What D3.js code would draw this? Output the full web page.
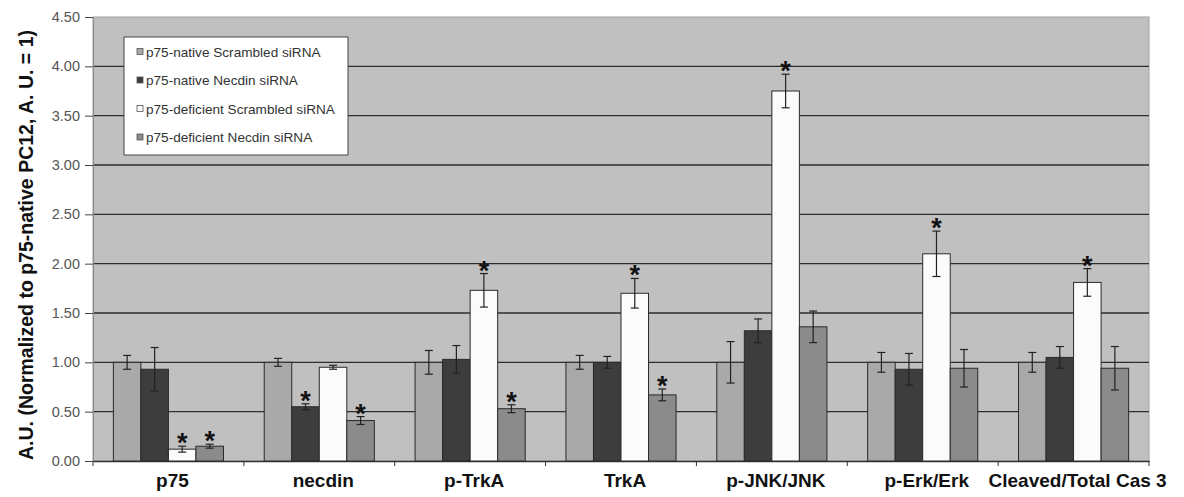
<!DOCTYPE html>
<html>
<head>
<meta charset="utf-8">
<script src="https://cdn.jsdelivr.net/npm/d3@7"></script>
<style>
  body { margin: 0; background: #fff; }
  svg { display: block; font-family: Arial, "Liberation Sans", sans-serif; }
</style>
</head>
<body>
<svg id="chart" width="1184" height="497"></svg>
<script>
// data
const categories = ['p75', 'necdin', 'p-TrkA', 'TrkA', 'p-JNK/JNK', 'p-Erk/Erk', 'Cleaved/Total Cas 3'];
const seriesNames = ['p75-native Scrambled siRNA', 'p75-native Necdin siRNA', 'p75-deficient Scrambled siRNA', 'p75-deficient Necdin siRNA'];
const seriesColors = ['#a9a9a9', '#3d3d3d', '#fbfbfb', '#8b8b8b'];

const nativeScrambled = [1.00, 1.00, 1.00, 1.00, 1.00, 1.00, 1.00];
const nativeNecdin = [0.93, 0.55, 1.03, 1.00, 1.32, 0.93, 1.05];
const deficientScrambled = [0.12, 0.95, 1.73, 1.70, 3.75, 2.10, 1.81];
const deficientNecdin = [0.15, 0.41, 0.53, 0.67, 1.36, 0.94, 0.94];

const errNativeScrambled = [0.07, 0.04, 0.12, 0.07, 0.21, 0.10, 0.10];
const errNativeNecdin = [0.22, 0.03, 0.14, 0.06, 0.12, 0.16, 0.11];
const errDeficientScrambled = [0.03, 0.02, 0.17, 0.15, 0.17, 0.23, 0.14];
const errDeficientNecdin = [0.02, 0.04, 0.04, 0.06, 0.16, 0.19, 0.22];

// significance stars (true = *)
const starNativeNecdin = [false, true, false, false, false, false, false];
const starDeficientScrambled = [true, false, true, true, true, true, true];
const starDeficientNecdin = [true, true, true, true, false, false, false];

const yTicks = [0, 0.5, 1, 1.5, 2, 2.5, 3, 3.5, 4, 4.5];

const values = [nativeScrambled, nativeNecdin, deficientScrambled, deficientNecdin];
const errors = [errNativeScrambled, errNativeNecdin, errDeficientScrambled, errDeficientNecdin];
const stars = [categories.map(() => false), starNativeNecdin, starDeficientScrambled, starDeficientNecdin];

const svg = d3.select('#chart');
const margin = { left: 93, right: 35, top: 17, bottom: 36 };
const width = 1184 - margin.left - margin.right;
const height = 497 - margin.top - margin.bottom;

const g = svg.append('g').attr('transform', `translate(${margin.left},${margin.top})`);

const x = d3.scaleBand().domain(categories).range([0, width]).paddingInner(0).paddingOuter(0);
const xs = d3.scaleBand().domain(d3.range(4)).range([0, x.bandwidth()]).paddingInner(0).paddingOuter(0.74);
const y = d3.scaleLinear().domain([0, 4.5]).range([height, 0]);

// plot background
g.append('rect')
  .attr('width', width).attr('height', height)
  .attr('fill', '#c0c0c0')
  .attr('stroke', '#a0a0a0').attr('stroke-width', 1);

// gridlines
g.append('g')
  .selectAll('line')
  .data(yTicks.filter(d => d > 0 && d < 4.5))
  .join('line')
  .attr('x1', 0).attr('x2', width)
  .attr('y1', d => y(d)).attr('y2', d => y(d))
  .attr('stroke', '#2e2e2e').attr('stroke-width', 1.4);

// y axis
const yAxis = g.append('g')
  .call(d3.axisLeft(y).tickValues(yTicks).tickFormat(d3.format('.2f')).tickSize(8).tickSizeOuter(0).tickPadding(5));
yAxis.select('.domain').attr('stroke', '#8a8a8a');
yAxis.selectAll('.tick line').attr('stroke', '#444');
yAxis.selectAll('text').attr('font-size', 14.5).attr('fill', '#555');

// x axis
const xAxis = g.append('g')
  .attr('transform', `translate(0,${height})`)
  .call(d3.axisBottom(x).tickSize(0).tickSizeOuter(0));
xAxis.select('.domain').attr('stroke', '#333').attr('stroke-width', 1.4);
xAxis.selectAll('text')
  .attr('font-size', 19).attr('font-weight', 'bold').attr('fill', '#111')
  .attr('dy', null).attr('y', 26).attr('dx', 4);
// tick marks at category boundaries
g.append('g')
  .selectAll('line')
  .data(d3.range(categories.length + 1))
  .join('line')
  .attr('x1', i => i * x.bandwidth()).attr('x2', i => i * x.bandwidth())
  .attr('y1', height).attr('y2', height + 5)
  .attr('stroke', '#333');

// bars
const groups = g.append('g')
  .selectAll('g')
  .data(categories)
  .join('g')
  .attr('transform', d => `translate(${x(d)},0)`);

groups.each(function (cat, ci) {
  const grp = d3.select(this);
  const rows = d3.range(4).map(si => ({
    si, v: values[si][ci], e: errors[si][ci], star: stars[si][ci]
  }));
  grp.selectAll('rect')
    .data(rows)
    .join('rect')
    .attr('x', d => xs(d.si))
    .attr('width', xs.bandwidth())
    .attr('y', d => y(d.v))
    .attr('height', d => y(0) - y(d.v))
    .attr('fill', d => seriesColors[d.si])
    .attr('stroke', '#2a2a2a').attr('stroke-width', 1);

  const eb = grp.selectAll('g.err')
    .data(rows)
    .join('g').attr('class', 'err')
    .attr('stroke', '#222').attr('stroke-width', 1.2);
  eb.append('line')
    .attr('x1', d => xs(d.si) + xs.bandwidth() / 2).attr('x2', d => xs(d.si) + xs.bandwidth() / 2)
    .attr('y1', d => y(d.v + d.e)).attr('y2', d => y(d.v - d.e));
  eb.append('line')
    .attr('x1', d => xs(d.si) + xs.bandwidth() / 2 - 4).attr('x2', d => xs(d.si) + xs.bandwidth() / 2 + 4)
    .attr('y1', d => y(d.v + d.e)).attr('y2', d => y(d.v + d.e));
  eb.append('line')
    .attr('x1', d => xs(d.si) + xs.bandwidth() / 2 - 4).attr('x2', d => xs(d.si) + xs.bandwidth() / 2 + 4)
    .attr('y1', d => y(d.v - d.e)).attr('y2', d => y(d.v - d.e));

  grp.selectAll('text.star')
    .data(rows.filter(d => d.star))
    .join('text').attr('class', 'star')
    .attr('x', d => xs(d.si) + xs.bandwidth() / 2)
    .attr('y', d => y(d.v + d.e) + 6)
    .attr('text-anchor', 'middle')
    .attr('font-size', 27).attr('font-weight', 'bold').attr('fill', '#111')
    .text('*');
});

// legend
const legend = svg.append('g').attr('transform', 'translate(124,37)');
legend.append('rect')
  .attr('width', 224).attr('height', 118)
  .attr('fill', '#fff').attr('stroke', '#444').attr('stroke-width', 1);
const items = legend.selectAll('g.item')
  .data(seriesNames)
  .join('g').attr('class', 'item')
  .attr('transform', (d, i) => `translate(13,${15 + i * 28.5})`);
items.append('rect')
  .attr('x', 0).attr('y', -3.5).attr('width', 6).attr('height', 6)
  .attr('fill', (d, i) => seriesColors[i]).attr('stroke', '#555').attr('stroke-width', 0.8);
items.append('text')
  .attr('x', 9).attr('y', 0).attr('dy', '0.35em')
  .attr('font-size', 13.6).attr('fill', '#333')
  .text(d => d);

// y axis title
svg.append('text')
  .attr('transform', `translate(26,245) rotate(-90)`)
  .attr('text-anchor', 'middle').attr('dy', '0.35em')
  .attr('font-size', 19.5).attr('font-weight', 'bold').attr('fill', '#111')
  .text('A.U. (Normalized to p75-native PC12, A. U. = 1)');
</script>
</body>
</html>
